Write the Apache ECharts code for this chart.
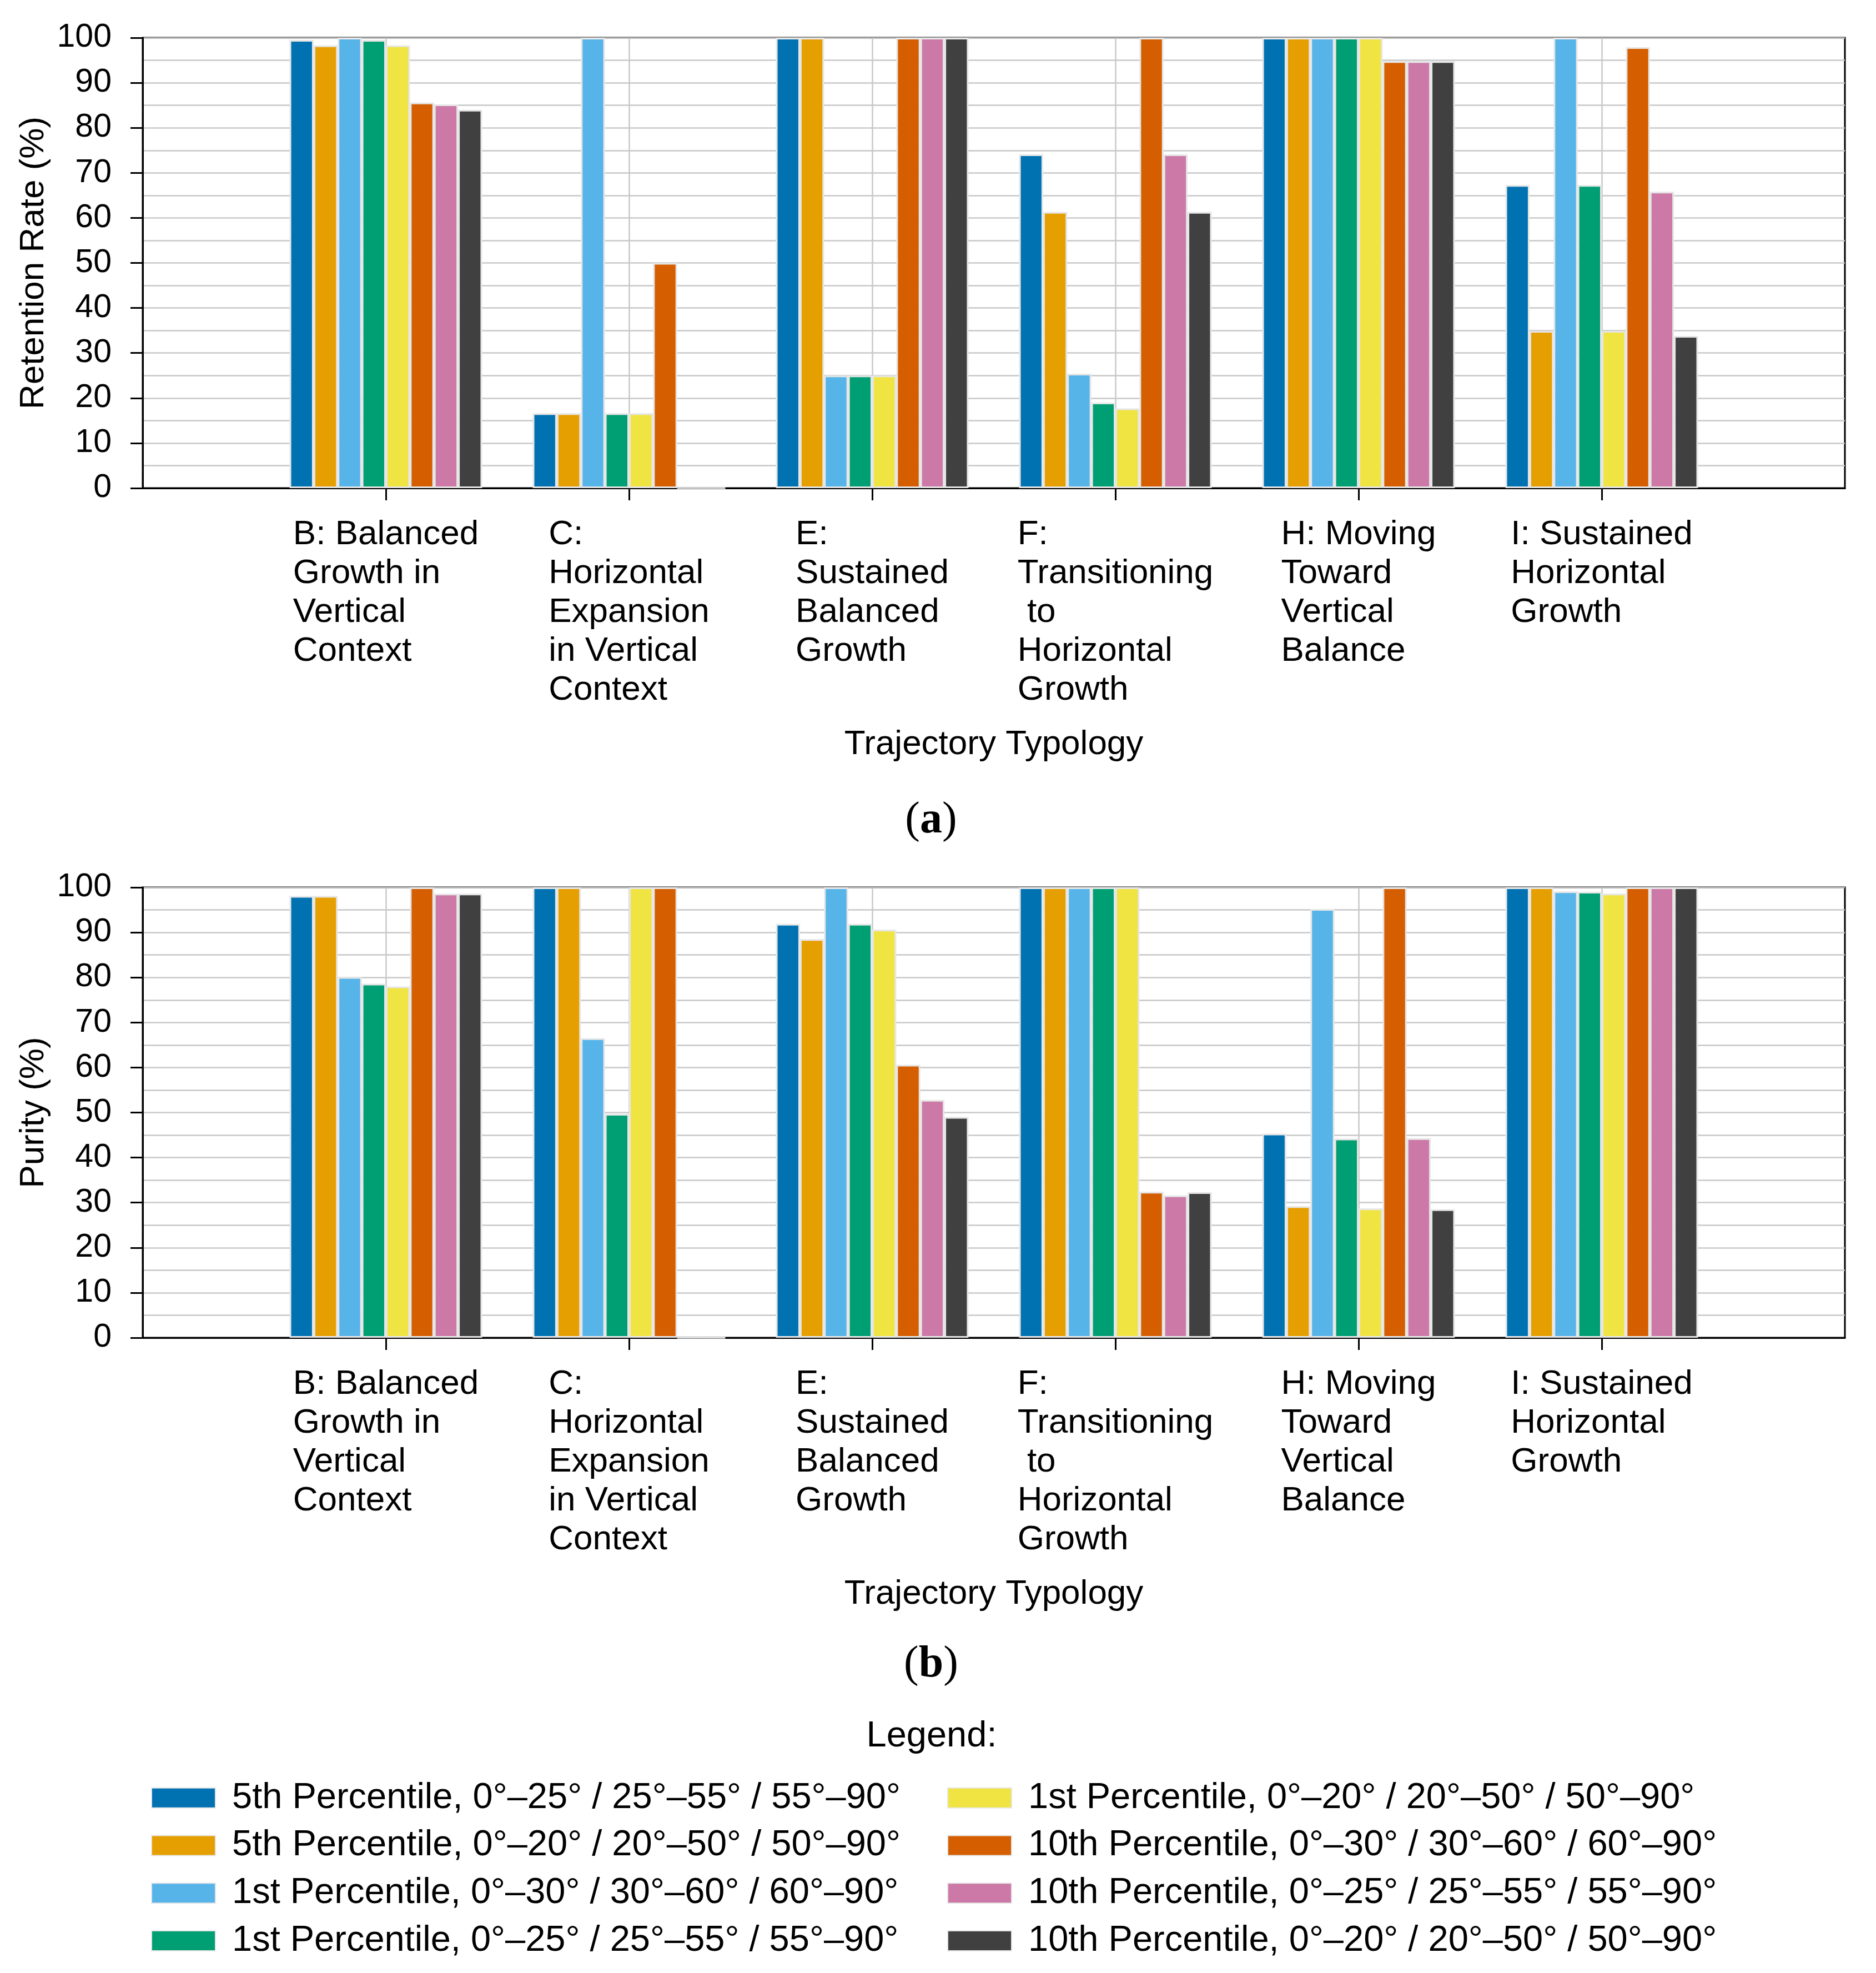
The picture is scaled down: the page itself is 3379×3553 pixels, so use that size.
<!DOCTYPE html>
<html>
<head>
<meta charset="utf-8">
<script src="https://cdn.jsdelivr.net/npm/echarts@6/dist/echarts.min.js"></script>
<style>
html,body{margin:0;padding:0;background:#fff;}
#c{width:3379px;height:3553px;}
</style>
</head>
<body>
<div id="c"></div>
<script>
// ---- Data ----
const categories = [
  "B: Balanced\nGrowth in\nVertical\nContext",
  "C:\nHorizontal\nExpansion\nin Vertical\nContext",
  "E:\nSustained\nBalanced\nGrowth",
  "F:\nTransitioning\n to\nHorizontal\nGrowth",
  "H: Moving\nToward\nVertical\nBalance",
  "I: Sustained\nHorizontal\nGrowth"
];
const seriesNames = [
  "5th Percentile, 0°–25° / 25°–55° / 55°–90°",
  "5th Percentile, 0°–20° / 20°–50° / 50°–90°",
  "1st Percentile, 0°–30° / 30°–60° / 60°–90°",
  "1st Percentile, 0°–25° / 25°–55° / 55°–90°",
  "1st Percentile, 0°–20° / 20°–50° / 50°–90°",
  "10th Percentile, 0°–30° / 30°–60° / 60°–90°",
  "10th Percentile, 0°–25° / 25°–55° / 55°–90°",
  "10th Percentile, 0°–20° / 20°–50° / 50°–90°"
];
const colors = ["#0072B2","#E69F00","#56B4E9","#009E73","#F0E442","#D55E00","#CC79A7","#404040"];

// Retention Rate (%) per series, over B, C, E, F, H, I
const retention5thA = [99.5, 16.6, 100, 74.1, 100, 67.3];
const retention5thB = [98.3, 16.6, 100, 61.3, 100, 34.9];
const retention1stA = [100, 100, 25, 25.4, 100, 100];
const retention1stB = [99.5, 16.6, 25, 19.0, 100, 67.3];
const retention1stC = [98.3, 16.6, 25, 17.7, 100, 34.9];
const retention10thA = [85.6, 50, 100, 100, 94.8, 97.9];
const retention10thB = [85.2, 0, 100, 74.1, 94.8, 65.8];
const retention10thC = [84.0, 0, 100, 61.3, 94.8, 33.8];

// Purity (%) per series, over B, C, E, F, H, I
const purity5thA = [98.1, 100, 91.9, 100, 45.3, 100];
const purity5thB = [98.1, 100, 88.5, 100, 29.2, 100];
const purity1stA = [80.1, 66.5, 100, 100, 95.2, 99.1];
const purity1stB = [78.6, 49.7, 91.9, 100, 44.2, 99.0];
const purity1stC = [78.0, 100, 90.6, 100, 28.7, 98.6];
const purity10thA = [100, 100, 60.6, 32.4, 100, 100];
const purity10thB = [98.6, 0, 52.8, 31.6, 44.3, 100];
const purity10thC = [98.6, 0, 49.0, 32.3, 28.5, 100];

const retention = [retention5thA, retention5thB, retention1stA, retention1stB, retention1stC, retention10thA, retention10thB, retention10thC];
const purity = [purity5thA, purity5thB, purity1stA, purity1stB, purity1stC, purity10thA, purity10thB, purity10thC];

const yTicks = [0,10,20,30,40,50,60,70,80,90,100];
const axisTitles = ["Retention Rate (%)", "Purity (%)"];
const xTitle = "Trajectory Typology";
const panelLabels = ["a", "b"];

// ---- Chart ----
const FONT = "'Liberation Sans', Arial, Helvetica, sans-serif";
const SERIF = "'Liberation Serif', 'DejaVu Serif', serif";
const padCats = [''].concat(categories).concat(['']);
const grids = [
  {left: 257, top: 68, width: 3066, height: 811},
  {left: 257, top: 1598, width: 3066, height: 811}
];
const gridLine = {color: '#c8c8c8', width: 2.5};

function xAxisFor(i) {
  return {
    type: 'category', gridIndex: i, data: padCats, boundaryGap: false,
    name: xTitle, nameLocation: 'middle', nameGap: 427,
    nameTextStyle: {fontFamily: FONT, fontSize: 62, color: '#000', lineHeight: 70},
    axisLine: {show: true, lineStyle: {color: '#000', width: 3}},
    axisTick: {show: true, length: 22, inside: false, lineStyle: {color: '#000', width: 3},
      interval: function (idx) { return idx > 0 && idx < padCats.length - 1; }},
    splitLine: {show: true, lineStyle: gridLine,
      interval: function (idx) { return idx > 0 && idx < padCats.length - 1; }},
    axisLabel: {
      interval: 0, margin: 49, color: '#000', fontFamily: FONT, fontSize: 62, lineHeight: 70,
      align: 'center', verticalAlign: 'top',
      formatter: function (v) {
        if (!v) return '';
        return v.split('\n').map(function (l) { return '{t|' + l + '}'; }).join('\n');
      },
      rich: {t: {fontFamily: FONT, fontSize: 62, lineHeight: 70, color: '#000', align: 'left'}}
    }
  };
}
function yAxisFor(i) {
  return {
    type: 'value', gridIndex: i, min: yTicks[0], max: yTicks[yTicks.length - 1], interval: 10,
    name: axisTitles[i], nameLocation: 'middle', nameGap: 158, nameRotate: 90,
    nameTextStyle: {fontFamily: FONT, fontSize: 62, color: '#000'},
    axisLine: {show: true, lineStyle: {color: '#000', width: 3}},
    axisTick: {show: true, length: 22, inside: false, lineStyle: {color: '#000', width: 3}},
    axisLabel: {margin: 56, color: '#000', fontFamily: FONT, fontSize: 59},
    splitLine: {show: true, lineStyle: gridLine},
    minorTick: {show: false, splitNumber: 2},
    minorSplitLine: {show: true, lineStyle: gridLine}
  };
}

const series = [];
[retention, purity].forEach(function (set, gi) {
  set.forEach(function (vals, si) {
    series.push({
      type: 'bar', name: seriesNames[si], xAxisIndex: gi, yAxisIndex: gi,
      data: [null].concat(vals).concat([null]),
      barGap: '0%', barCategoryGap: '20.8%',
      itemStyle: {color: colors[si], borderColor: '#e6e6e6', borderWidth: 3},
      emphasis: {disabled: true}, silent: true
    });
  });
});

function legendFor(names, left) {
  return {
    data: names, orient: 'vertical', left: left, top: 3190,
    icon: 'rect', itemWidth: 115, itemHeight: 36, itemGap: 0, selectedMode: false,
    textStyle: {fontFamily: FONT, fontSize: 65, color: '#000', lineHeight: 85.7, padding: [0, 0, 0, 25]}
  };
}

function panelLabel(letter, y) {
  return {type: 'text', x: 1677, y: y, style: {text: '{n|(}{b|' + letter + '}{n|)}', align: 'center', verticalAlign: 'middle',
    rich: {n: {fontFamily: SERIF, fontSize: 80, fill: '#000'}, b: {fontFamily: SERIF, fontSize: 80, fontWeight: 'bold', fill: '#000'}}}};
}

const chart = echarts.init(document.getElementById('c'), null, {renderer: 'canvas'});
chart.setOption({
  animation: false,
  backgroundColor: '#fff',
  grid: grids.map(function (g) { return Object.assign({show: true, borderColor: '#000', borderWidth: 3, backgroundColor: 'transparent'}, g); }),
  xAxis: [xAxisFor(0), xAxisFor(1)],
  yAxis: [yAxisFor(0), yAxisFor(1)],
  series: series,
  legend: [legendFor(seriesNames.slice(0, 4), 267), legendFor(seriesNames.slice(4), 1701)],
  graphic: [
    panelLabel(panelLabels[0], 1478),
    panelLabel(panelLabels[1], 2998),
    {type: 'text', x: 1678, y: 3127, style: {text: 'Legend:', align: 'center', verticalAlign: 'middle',
      fontFamily: FONT, fontSize: 65, fill: '#000'}}
  ]
});
</script>
</body>
</html>
